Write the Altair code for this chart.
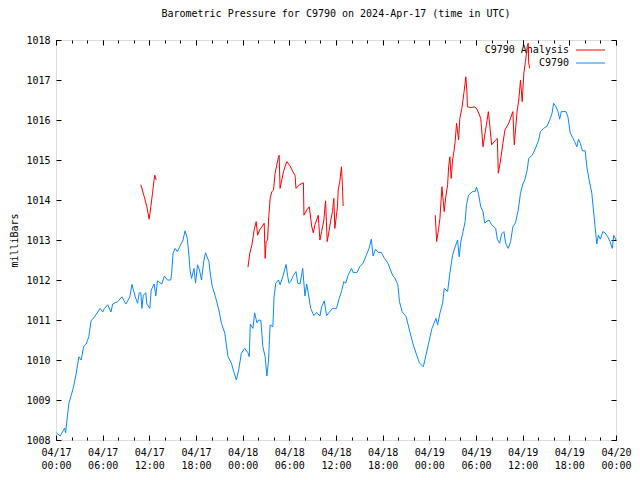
import altair as alt
import pandas as pd

# ---- data (hours since 2024-04-17 00:00 UTC, pressure in mbar) ----
blue_hours = [0.04, 0.55, 1.11, 1.24, 1.41, 1.66, 1.96, 2.26, 2.60, 2.94, 3.24, 3.54, 3.87, 4.22, 4.51,
              4.95, 5.37, 5.67, 6.01, 6.23, 6.65, 7.07, 7.29, 7.93, 8.48, 8.99, 9.50, 9.76, 10.19, 10.49,
              10.70, 10.91, 11.04, 11.22, 11.55, 11.68, 12.06, 12.24, 12.62, 12.83, 13.04, 13.59, 13.94,
              14.32, 14.75, 14.87, 15.05, 15.31, 15.60, 16.02, 16.33, 16.59, 16.88, 17.10, 17.23, 17.43,
              17.74, 17.94, 18.20, 18.45, 18.71, 19.02, 19.22, 19.66, 19.86, 20.08, 20.50, 20.94, 21.27,
              21.70, 22.12, 22.55, 22.85, 23.19, 23.49, 23.83, 24.26, 24.68, 24.85, 24.98, 25.32, 25.54,
              25.83, 26.05, 26.34, 26.60, 26.89, 27.11, 27.33, 27.53, 27.88, 28.04, 28.26, 28.61, 28.81,
              29.16, 29.58, 29.80, 29.96, 30.18, 30.53, 30.86, 31.08, 31.37, 31.72, 31.88, 32.01, 32.23,
              32.44, 32.74, 33.16, 33.51, 33.93, 34.15, 34.49, 34.79, 35.21, 35.55, 36.06, 36.41, 36.70,
              37.00, 37.25, 37.56, 37.98, 38.20, 38.71, 39.04, 39.48, 39.90, 40.25, 40.54, 40.76, 41.09,
              41.40, 41.82, 42.24, 42.68, 43.01, 43.32, 43.52, 43.95, 44.16, 44.50, 45.02, 45.44, 45.87,
              46.29, 46.72, 47.23, 47.57, 48.00, 48.34, 48.85, 49.07, 49.36, 49.71, 49.91, 50.35, 50.64,
              50.99, 51.32, 51.63, 51.84, 52.05, 52.34, 52.60, 52.78, 53.03, 53.55, 53.88, 54.06, 54.31,
              54.61, 54.90, 55.12, 55.25, 55.67, 56.01, 56.53, 56.74, 57.04, 57.29, 57.59, 57.81, 58.15,
              58.45, 58.74, 59.08, 59.43, 59.72, 60.02, 60.27, 60.58, 60.78, 61.22, 61.55, 62.06, 62.28,
              62.70, 63.14, 63.56, 63.78, 63.98, 64.29, 64.54, 64.75, 64.97, 65.57, 65.82, 66.12, 66.41,
              66.67, 66.97, 67.18, 67.40, 67.69, 68.04, 68.25, 68.55, 68.89, 69.10, 69.31, 69.53, 69.73,
              69.99, 70.30, 70.59, 70.94, 71.23, 71.53, 71.71, 72.0]
blue_mb = [1008.18, 1008.10, 1008.30, 1008.18, 1008.50, 1008.92, 1009.12, 1009.33, 1009.67, 1010.08,
           1010.00, 1010.33, 1010.40, 1010.58, 1010.98, 1011.08, 1011.20, 1011.29, 1011.20, 1011.29,
           1011.38, 1011.20, 1011.40, 1011.46, 1011.58, 1011.40, 1011.58, 1011.89, 1011.58, 1011.42,
           1011.68, 1011.68, 1011.29, 1011.62, 1011.68, 1011.40, 1011.29, 1011.75, 1011.90, 1011.60,
           1011.98, 1011.90, 1012.10, 1012.00, 1012.00, 1012.17, 1012.67, 1012.79, 1012.71, 1012.88,
           1013.00, 1013.23, 1013.04, 1012.60, 1012.25, 1012.04, 1012.29, 1011.92, 1012.38, 1012.25,
           1012.00, 1012.50, 1012.68, 1012.46, 1012.12, 1011.85, 1011.58, 1011.25, 1010.92, 1010.67,
           1010.08, 1009.92, 1009.71, 1009.50, 1009.75, 1010.17, 1010.29, 1010.18, 1010.08, 1010.90,
           1010.79, 1011.18, 1010.93, 1011.00, 1010.99, 1010.33, 1010.08, 1009.60, 1010.00, 1010.88,
           1010.83, 1011.58, 1011.92, 1012.00, 1011.88, 1012.08, 1012.39, 1012.08, 1011.92, 1011.96,
           1012.12, 1012.21, 1011.92, 1011.90, 1012.29, 1011.90, 1011.60, 1011.90, 1011.67, 1011.29,
           1011.11, 1011.19, 1011.10, 1011.33, 1011.48, 1011.11, 1011.21, 1011.29, 1011.29, 1011.54,
           1011.71, 1011.96, 1011.92, 1012.12, 1012.29, 1012.19, 1012.19, 1012.33, 1012.42, 1012.62,
           1012.79, 1013.02, 1012.60, 1012.77, 1012.69, 1012.69, 1012.54, 1012.42, 1012.25, 1012.10,
           1012.07, 1011.88, 1011.46, 1011.21, 1011.08, 1010.75, 1010.42, 1010.17, 1009.93, 1009.83,
           1010.12, 1010.50, 1010.79, 1011.04, 1010.88, 1011.17, 1011.42, 1011.79, 1011.71, 1012.17,
           1012.62, 1012.83, 1013.00, 1012.58, 1012.96, 1013.21, 1013.46, 1013.88, 1014.12, 1014.21,
           1014.21, 1014.32, 1014.17, 1013.83, 1013.71, 1013.42, 1013.45, 1013.50, 1013.38, 1013.29,
           1013.02, 1012.92, 1013.15, 1013.21, 1012.92, 1012.79, 1012.96, 1013.33, 1013.43, 1013.75,
           1014.17, 1014.40, 1014.50, 1014.75, 1015.04, 1015.12, 1015.25, 1015.50, 1015.71, 1015.79,
           1015.85, 1016.04, 1016.17, 1016.42, 1016.33, 1016.21, 1016.02, 1016.21, 1016.21, 1016.08,
           1015.67, 1015.57, 1015.46, 1015.33, 1015.52, 1015.42, 1015.23, 1015.23, 1014.83, 1014.50,
           1014.17, 1013.75, 1013.33, 1012.90, 1013.12, 1013.02, 1013.21, 1013.18, 1013.08, 1012.96,
           1012.79, 1013.12, 1013.00]

red1_hours = [10.91, 11.35, 11.68, 11.98, 12.19, 12.41, 12.62, 12.70, 12.88]
red1_mb = [1014.38, 1014.08, 1013.83, 1013.52, 1013.83, 1014.17, 1014.52, 1014.62, 1014.50]

red2_hours = [24.68, 24.90, 25.19, 25.49, 25.74, 25.92, 26.18, 26.47, 26.77, 26.89, 27.02, 27.20, 27.33,
              27.53, 27.75, 27.97, 28.17, 28.39, 28.61, 28.69, 28.81, 29.03, 29.25, 29.45, 29.67, 30.09,
              30.53, 30.73, 30.86, 31.29, 31.81, 31.88, 32.23, 32.57, 32.87, 33.08, 33.29, 33.51, 33.72,
              33.93, 34.15, 34.44, 34.66, 34.87, 35.13, 35.33, 35.55, 35.72, 35.85, 36.06, 36.19, 36.28,
              36.49, 36.70, 36.83, 36.92]
red2_mb = [1012.32, 1012.65, 1012.88, 1013.27, 1013.46, 1013.12, 1013.25, 1013.33, 1013.42, 1012.54,
           1012.96, 1013.00, 1013.50, 1014.04, 1014.21, 1014.25, 1014.67, 1014.88, 1015.08, 1015.12,
           1014.29, 1014.50, 1014.71, 1014.83, 1014.96, 1014.85, 1014.68, 1014.62, 1014.29, 1014.38,
           1014.43, 1013.62, 1013.75, 1013.83, 1013.35, 1013.18, 1013.38, 1013.50, 1013.62, 1013.00,
           1013.21, 1013.50, 1013.98, 1012.96, 1013.25, 1013.50, 1013.71, 1014.04, 1013.29, 1013.62,
           1013.83, 1014.25, 1014.46, 1014.83, 1014.33, 1013.85]

red3_hours = [48.76, 48.94, 49.20, 49.36, 49.62, 49.91, 50.13, 50.35, 50.48, 50.64, 50.81, 50.99, 51.19,
              51.32, 51.50, 51.76, 51.92, 52.18, 52.47, 52.69, 52.82, 52.90, 53.33, 53.88, 54.18, 54.61,
              54.90, 55.16, 55.34, 55.59, 55.76, 56.01, 56.53, 56.74, 56.87, 57.16, 57.46, 57.72, 58.23,
              58.74, 58.92, 59.08, 59.30, 59.50, 59.72, 59.94, 60.15, 60.36, 60.58, 60.71, 60.78, 60.91]
red3_mb = [1013.62, 1012.96, 1013.29, 1013.54, 1014.33, 1013.71, 1014.10, 1014.38, 1014.83, 1015.08,
           1014.54, 1015.00, 1015.25, 1015.46, 1015.92, 1015.50, 1016.04, 1016.29, 1016.71, 1017.08,
           1016.75, 1016.33, 1016.31, 1016.33, 1016.25, 1016.04, 1015.33, 1015.67, 1015.88, 1016.21,
           1015.88, 1015.38, 1015.50, 1015.54, 1014.67, 1015.00, 1015.42, 1015.75, 1015.93, 1016.21,
           1015.38, 1015.75, 1016.25, 1016.50, 1017.00, 1016.46, 1017.17, 1017.46, 1017.83, 1017.92,
           1017.42, 1017.29]

series_names = ["C9790 Analysis", "C9790"]
title_text = "Barometric Pressure for C9790 on 2024-Apr-17 (time in UTC)"
y_title = "milliBars"
x_major = list(range(0, 73, 6))
x_minor = list(range(0, 73, 2))
y_ticks = list(range(1008, 1019))

# ---- tables ----
df_blue = pd.DataFrame({"h": blue_hours, "p": blue_mb})
df_red = pd.concat([
    pd.DataFrame({"h": red1_hours, "p": red1_mb, "seg": 1}),
    pd.DataFrame({"h": red2_hours, "p": red2_mb, "seg": 2}),
    pd.DataFrame({"h": red3_hours, "p": red3_mb, "seg": 3}),
], ignore_index=True)

FONT = "DejaVu Sans Mono"
FS = 10
RED = "#ff0000"
BLUE = "#0a88ff"

xscale = alt.Scale(domain=[0, 72], nice=False, zero=False)
yscale = alt.Scale(domain=[1008, 1018], nice=False, zero=False)

label_expr = ("['04/' + (17 + floor(datum.value / 24)), "
              "(datum.value % 24 < 10 ? '0' : '') + (datum.value % 24) + ':00']")

common_axis = dict(domain=False, grid=False, tickColor="black", labelColor="black",
                   labelFont=FONT, labelFontSize=FS, labelFlush=False, labelOverlap=False,
                   title=None)

ax_bottom_major = alt.Axis(orient="bottom", values=x_major, tickSize=5, offset=-5,
                           labelExpr=label_expr, labelPadding=7, labelBaseline="top",
                           labelLineHeight=13, **common_axis)
ax_bottom_minor = alt.Axis(orient="bottom", values=x_minor, tickSize=3, offset=-3,
                           labels=False, **common_axis)
ax_top_major = alt.Axis(orient="top", values=x_major, tickSize=5, offset=-5,
                        labels=False, **common_axis)
ax_top_minor = alt.Axis(orient="top", values=x_minor, tickSize=3, offset=-3,
                        labels=False, **common_axis)

ax_left = alt.Axis(orient="left", values=y_ticks, tickSize=5, offset=-5, format="d",
                   labelPadding=6, domain=False, grid=False, tickColor="black",
                   labelColor="black", labelFont=FONT, labelFontSize=FS,
                   labelFlush=False, labelOverlap=False,
                   title=y_title, titleFont=FONT, titleFontSize=FS,
                   titleFontWeight="normal", titleColor="black", titlePadding=6)
ax_right = alt.Axis(orient="right", values=y_ticks, tickSize=5, offset=-5,
                    labels=False, **common_axis)

blue = alt.Chart(df_blue).mark_line(color=BLUE, strokeWidth=1).encode(
    x=alt.X("h:Q", scale=xscale, axis=ax_bottom_major),
    y=alt.Y("p:Q", scale=yscale, axis=ax_left),
    order="h:Q",
)

red = alt.Chart(df_red).mark_line(color=RED, strokeWidth=1).encode(
    x=alt.X("h:Q", scale=xscale, axis=ax_bottom_minor),
    y=alt.Y("p:Q", scale=yscale, axis=ax_right),
    detail="seg:N",
    order="h:Q",
)

top_major = alt.Chart(df_blue).mark_line(opacity=0).encode(
    x=alt.X("h:Q", scale=xscale, axis=ax_top_major),
    y=alt.Y("p:Q", scale=yscale, axis=None),
)
top_minor = alt.Chart(df_blue).mark_line(opacity=0).encode(
    x=alt.X("h:Q", scale=xscale, axis=ax_top_minor),
    y=alt.Y("p:Q", scale=yscale, axis=None),
)

# legend (top-right, inside the plot)
df_leg = pd.DataFrame({"label": series_names})
leg_text_red = alt.Chart(df_leg.iloc[[0]]).mark_text(
    align="right", baseline="middle", font=FONT, fontSize=FS, color="black"
).encode(text="label:N", x=alt.value(513), y=alt.value(10))
leg_text_blue = alt.Chart(df_leg.iloc[[1]]).mark_text(
    align="right", baseline="middle", font=FONT, fontSize=FS, color="black"
).encode(text="label:N", x=alt.value(513), y=alt.value(23))
leg_line_red = alt.Chart(df_leg.iloc[[0]]).mark_rule(color=RED, strokeWidth=1).encode(
    x=alt.value(520), x2=alt.value(549), y=alt.value(10))
leg_line_blue = alt.Chart(df_leg.iloc[[1]]).mark_rule(color=BLUE, strokeWidth=1).encode(
    x=alt.value(520), x2=alt.value(549), y=alt.value(23))

chart = alt.layer(
    top_major, top_minor,
    leg_text_red, leg_text_blue, leg_line_red, leg_line_blue,
    red, blue,
).resolve_scale(
    x="shared", y="shared"
).resolve_axis(
    x="independent", y="independent"
).properties(
    width=560, height=400,
    title=alt.TitleParams(title_text, font=FONT, fontSize=FS, fontWeight="normal",
                          color="black", anchor="middle", frame="group", offset=16),
    autosize=alt.AutoSizeParams(type="none"),
    padding={"left": 48, "top": 32, "right": 16, "bottom": 32},
).configure_view(
    stroke="black", strokeWidth=1
).configure(background="white")

chart.save("out.html", embed_options={"renderer": "svg", "actions": False})
